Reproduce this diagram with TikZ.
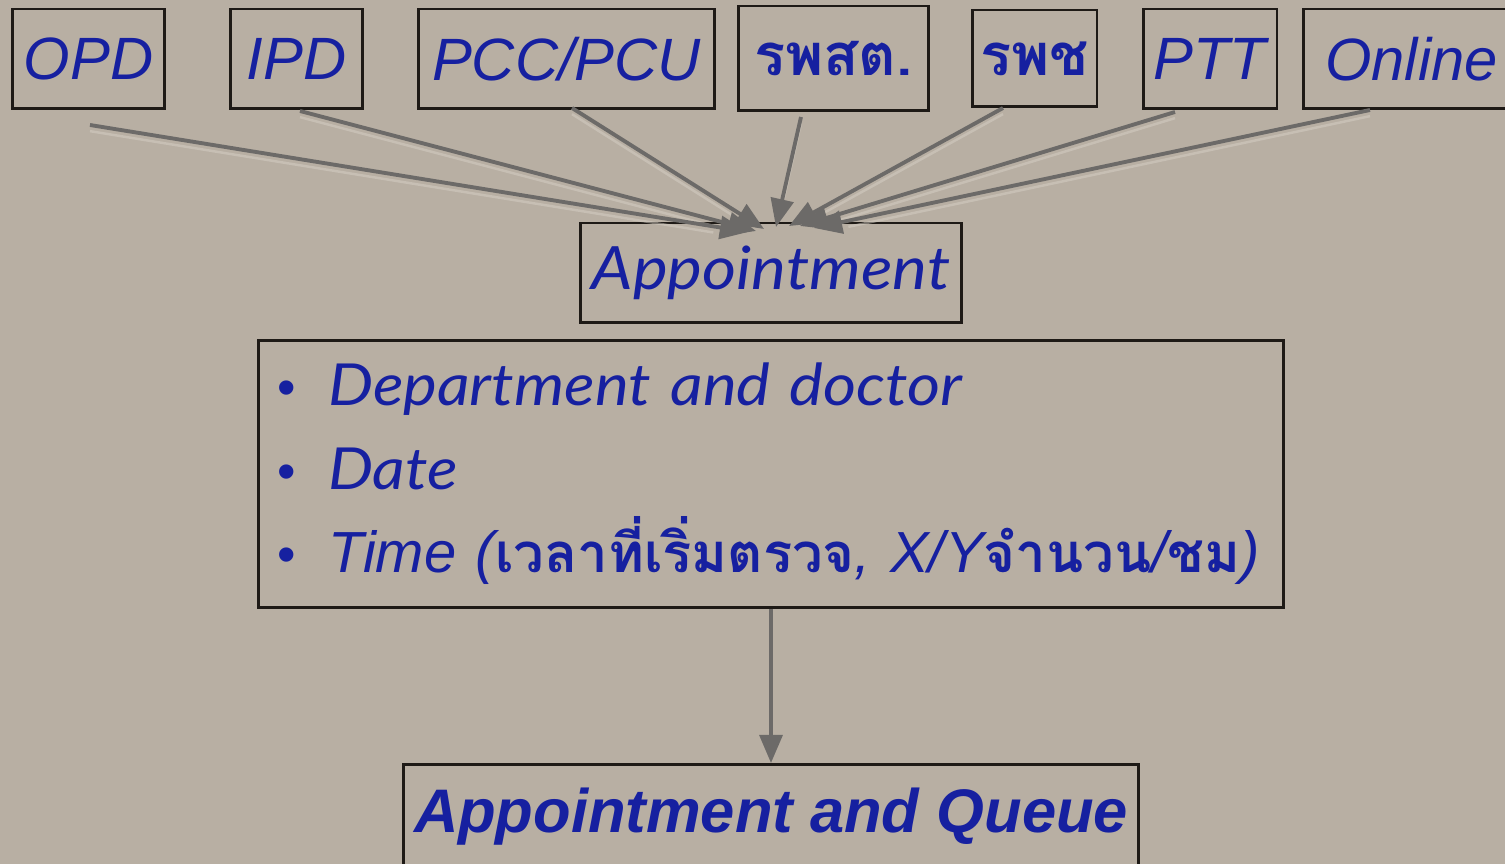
\documentclass[tikz,border=0pt]{standalone}
\usepackage{fontspec}
\setmainfont{Liberation Sans}
\newfontfamily\latofont[FakeStretch=1.1]{Lato}
\newfontfamily\thaifont[Script=Thai]{Loma}
\usetikzlibrary{arrows.meta,calc}
\definecolor{bgc}{RGB}{184,175,163}
\definecolor{txtblue}{RGB}{22,32,160}
\definecolor{arrgray}{RGB}{108,106,104}
\definecolor{arrlight}{RGB}{214,208,198}
\definecolor{boxline}{RGB}{30,26,22}
\tikzset{
  srcbox/.style={draw=boxline, line width=1.7pt, minimum height=2cm, inner sep=0pt,
    text=txtblue, font=\fontsize{34}{40}\selectfont\itshape},
  thaibox/.style={srcbox, font=\fontsize{33}{40}\selectfont\thaifont\bfseries},
  arr/.style={draw=arrgray, line width=2.2pt, -{Triangle[length=16pt,width=13pt]}},
  arrglow/.style={draw=arrlight, line width=1.4pt, opacity=0.5},
}
\newcommand{\bul}{\makebox[1.12cm][l]{\hspace{0.1cm}\fontsize{30}{30}\selectfont\textbullet}}
\newcommand{\thaitxt}[1]{{\fontsize{31}{47}\selectfont\thaifont\bfseries #1}}
\begin{document}
\begin{tikzpicture}[x=0.02cm,y=-0.02cm]
\fill[bgc] (0,0) rectangle (1505,864);
\useasboundingbox (0,0) rectangle (1505,864);
% source boxes
\node[srcbox, minimum width=3.06cm] (opd) at (88.5,59) {OPD};
\node[srcbox, minimum width=2.66cm] (ipd) at (296.5,59) {IPD};
\node[srcbox, minimum width=5.94cm] (pcc) at (566.5,59) {PCC/PCU};
\node[thaibox, minimum width=3.82cm, minimum height=2.1cm] (rpsd) at (833.5,58.5) {\raisebox{-0.1cm}{รพสต.}};
\node[thaibox, minimum width=2.5cm, minimum height=1.94cm] (rpc) at (1034.5,58.5) {\raisebox{-0.1cm}{รพช}};
\node[srcbox, minimum width=2.68cm] (ptt) at (1210,59) {PTT};
\node[srcbox, minimum width=4.34cm] (online) at (1411.5,59) {Online};
% appointment
\node[draw=boxline, line width=1.7pt, minimum width=7.64cm, minimum height=2cm, inner sep=0pt,
  text=txtblue, font=\fontsize{34}{40}\selectfont\latofont\itshape] (appt) at (771,273) {Appointment};
% info box
\node[draw=boxline, line width=1.7pt, minimum width=20.52cm, minimum height=5.36cm,
  text width=19.96cm, inner xsep=0.28cm, inner ysep=0pt, align=left,
  text=txtblue, font=\fontsize{33}{47.5}\selectfont] (info) at (771,474)
  {\bul{\latofont\itshape Department and doctor}\\
   \bul{\latofont\itshape Date}\\
   \mbox{\bul{\itshape Time (}\thaitxt{เวลาที่เริ่มตรวจ}{\itshape , X/Y}\thaitxt{จำนวน}{\itshape /}\thaitxt{ชม}{\itshape )}}};
% appointment and queue
\node[draw=boxline, line width=1.7pt, minimum width=14.72cm, minimum height=2.1cm, inner sep=0pt,
  text=txtblue, font=\fontsize{35}{40}\selectfont\bfseries\itshape] (aq) at (771,817) {Appointment and Queue};
% arrow coordinates
\coordinate (s1) at (90,125);   \coordinate (e1) at (748,232);
\coordinate (s2) at (300,111);  \coordinate (e2) at (756,231);
\coordinate (s3) at (572,108);  \coordinate (e3) at (764,229);
\coordinate (s4) at (801,117);  \coordinate (e4) at (776,227);
\coordinate (s5) at (1003,108); \coordinate (e5) at (789,226);
\coordinate (s6) at (1175,112); \coordinate (e6) at (800,226);
\coordinate (s7) at (1370,110); \coordinate (e7) at (814,228);
\foreach \i in {1,...,7} {\draw[arrglow, shorten >=20pt] ([yshift=-3.5pt]s\i) -- ([yshift=-3.5pt]e\i);}
\foreach \i in {1,...,7} {\draw[arr] (s\i) -- (e\i);}
\draw[arr] (info.south) -- (aq.north);
\end{tikzpicture}
\end{document}
